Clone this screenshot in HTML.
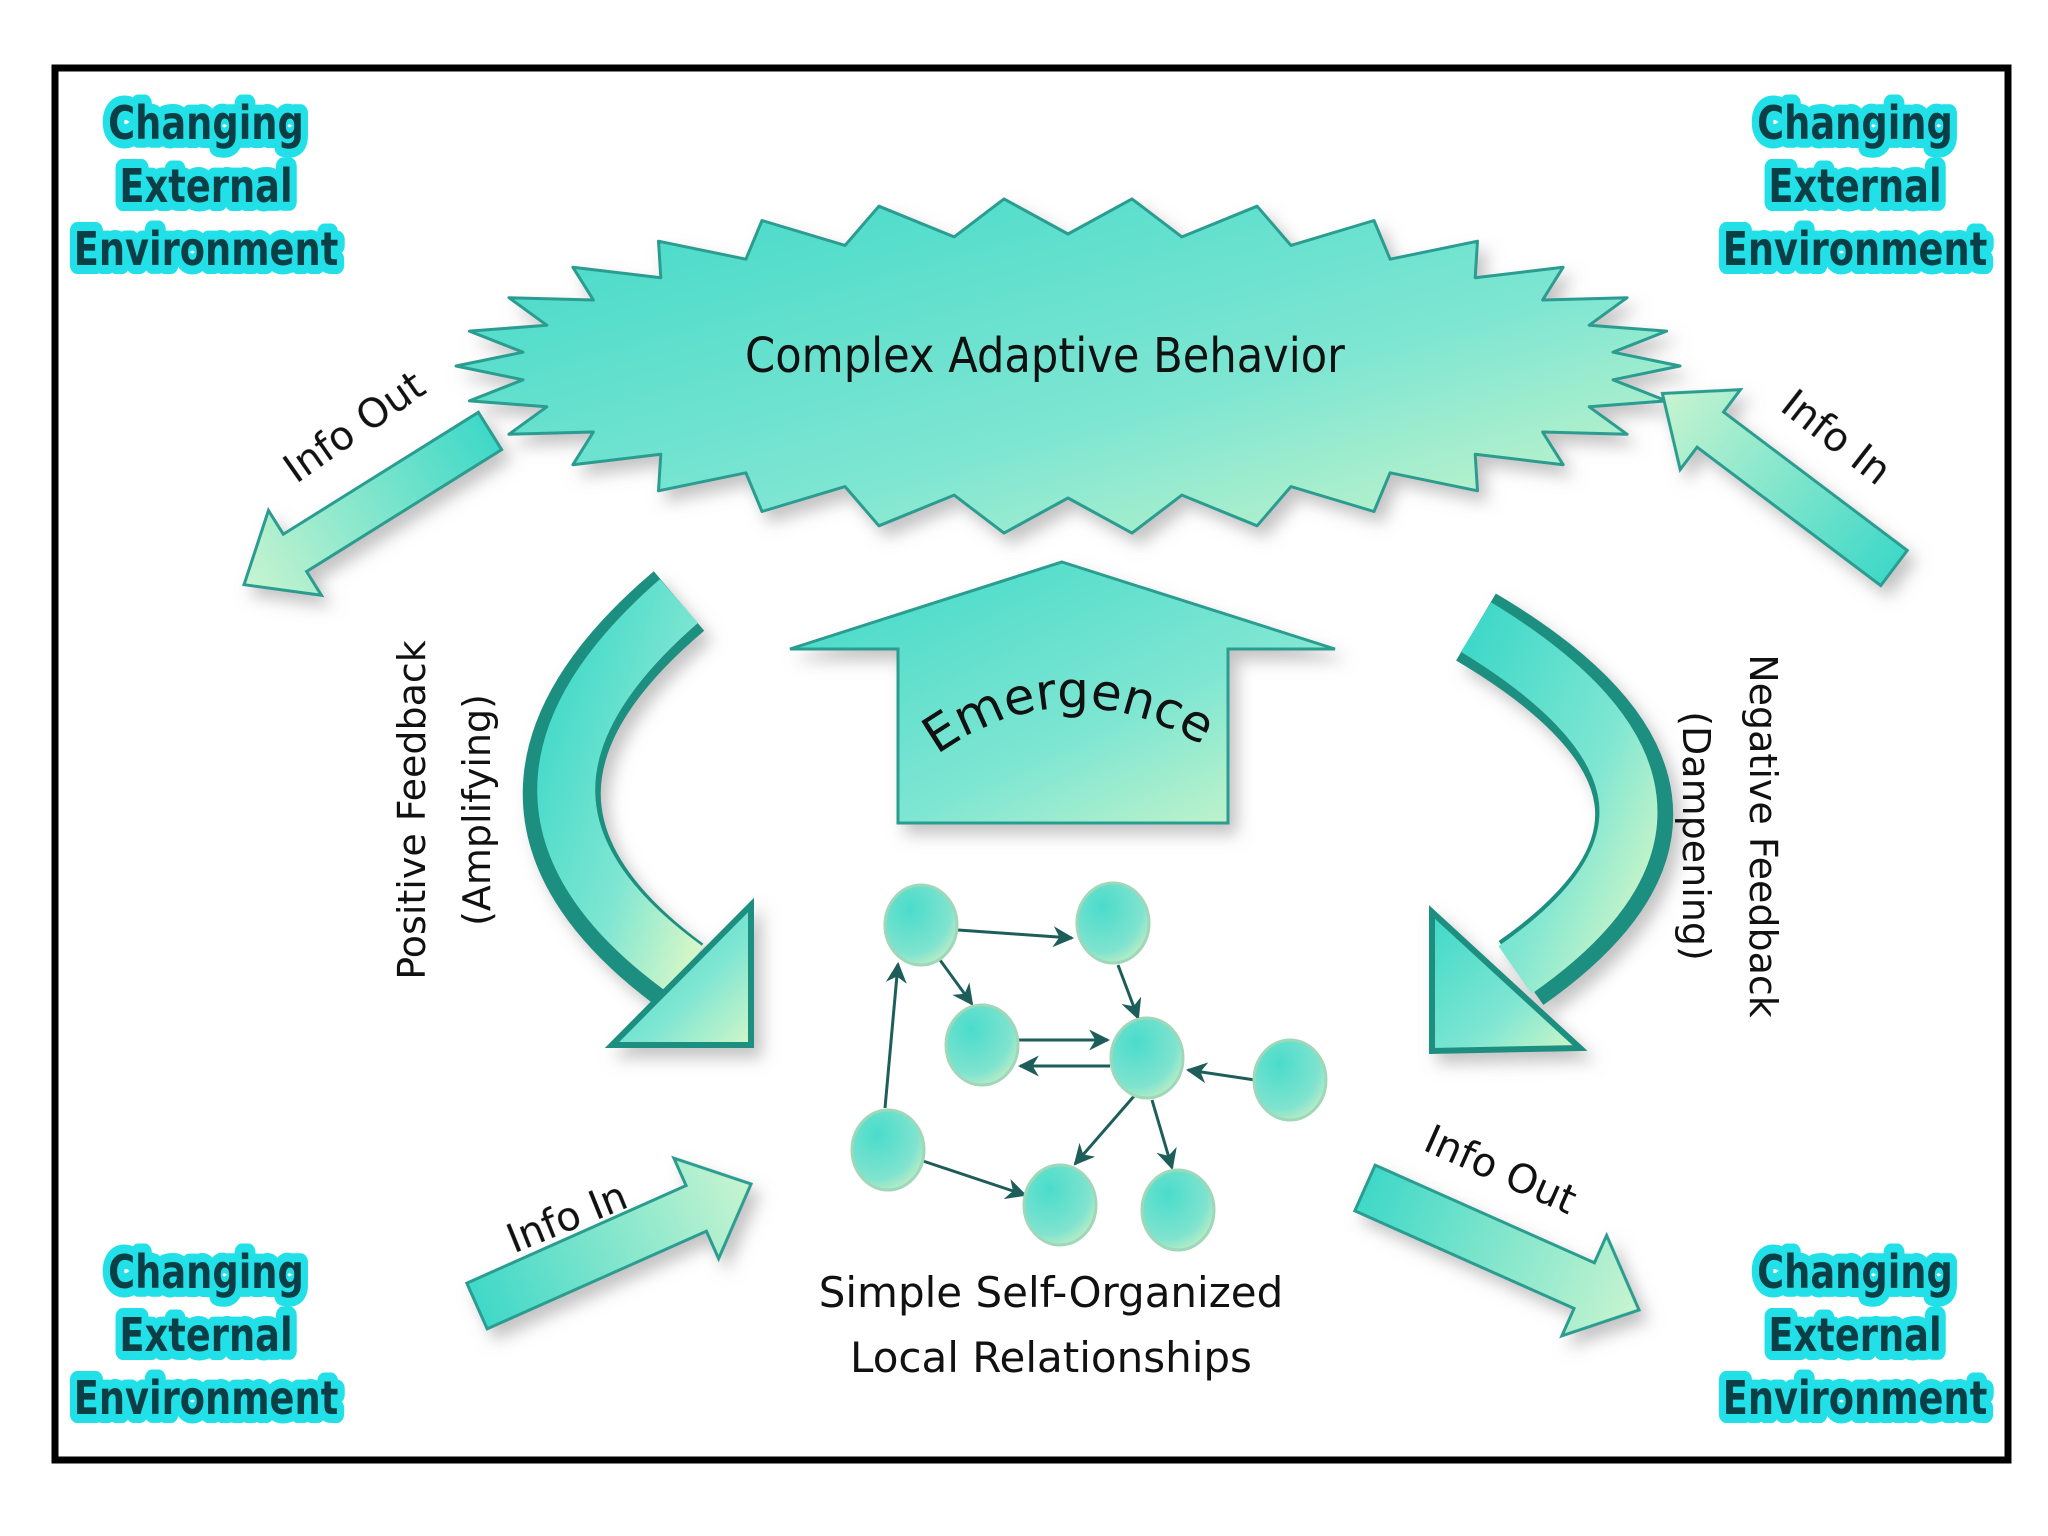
<!DOCTYPE html>
<html><head><meta charset="utf-8"><style>
html,body{margin:0;padding:0;background:#fff}
svg{display:block}
text{font-family:"DejaVu Sans","Liberation Sans",sans-serif}
</style></head><body>
<svg id="s" width="2048" height="1536" viewBox="0 0 2048 1536" xmlns="http://www.w3.org/2000/svg">
<defs>
<linearGradient id="g" x1="0" y1="0" x2="1" y2="1">
<stop offset="0" stop-color="#3fd8c8"/><stop offset="0.6" stop-color="#7ee6d2"/><stop offset="1" stop-color="#d2f6c8"/>
</linearGradient>
<linearGradient id="g2" x1="0" y1="0" x2="1" y2="0">
<stop offset="0" stop-color="#3fd8c8"/><stop offset="1" stop-color="#c8f4d0"/>
</linearGradient>
<radialGradient id="n" cx="0.35" cy="0.3" r="0.8">
<stop offset="0" stop-color="#4adccb"/><stop offset="0.7" stop-color="#7fe3cf"/><stop offset="1" stop-color="#c9efc4"/>
</radialGradient>
<marker id="ah" viewBox="0 0 10 10" refX="9" refY="5" markerWidth="7" markerHeight="7" orient="auto"><path d="M0 0 L10 5 L0 10 L3 5Z" fill="#1d5e5a"/></marker>
<filter id="sh" x="-10%" y="-10%" width="130%" height="130%"><feDropShadow dx="8" dy="10" stdDeviation="8" flood-color="#888" flood-opacity="0.5"/></filter>
</defs>
<rect x="55" y="68" width="1953" height="1392" fill="#fff" stroke="#000" stroke-width="7"/>

<g id="star" filter="url(#sh)"></g>
<text x="1045" y="372" font-size="48" text-anchor="middle" fill="#111" transform="translate(1045 0) scale(0.9 1) translate(-1045 0)">Complex Adaptive Behavior</text>

<polygon points="1062,562 1335,649 1228,649 1228,823 898,823 898,649 790,649" fill="url(#g)" stroke="#2a9c90" stroke-width="3" filter="url(#sh)"/>
<path id="arc" d="M930 760 Q1064 660 1210 750" fill="none"/>
<text font-size="50" fill="#111"><textPath href="#arc" startOffset="50%" text-anchor="middle">Emergence</textPath></text>

<g filter="url(#sh)">
<path d="M679 601 Q444 800 680 975" fill="none" stroke="#1f8f80" stroke-width="78"/>
<path d="M679 601 Q450 800 686 970" fill="none" stroke="url(#g)" stroke-width="58"/>
<polygon points="612,1045 751,1045 751,905" fill="url(#g)" stroke="#1f8f80" stroke-width="6"/>
<path d="M1476 627 Q1768 800 1521 973" fill="none" stroke="#1f8f80" stroke-width="78"/>
<path d="M1476 627 Q1760 800 1515 970" fill="none" stroke="url(#g)" stroke-width="58"/>
<polygon points="1432,912 1432,1051 1580,1048" fill="url(#g)" stroke="#1f8f80" stroke-width="6"/>
</g>

<g filter="url(#sh)" fill="url(#g2)" stroke="#2a9c90" stroke-width="3">
<g transform="translate(490 431) rotate(148)"><polygon points="0,-22 230,-22 230,-50 290,0 230,50 230,22 0,22"/></g>
<g transform="translate(1894 568) rotate(-143)"><polygon points="0,-22 230,-22 230,-50 290,0 230,50 230,22 0,22"/></g>
<g transform="translate(477 1306) rotate(-24)"><polygon points="0,-25 240,-25 240,-55 300,0 240,55 240,25 0,25"/></g>
<g transform="translate(1365 1188) rotate(24)"><polygon points="0,-25 240,-25 240,-55 300,0 240,55 240,25 0,25"/></g>
</g>
<g font-size="40" fill="#111" text-anchor="middle">
<text transform="translate(362 438) rotate(-35)">Info Out</text>
<text transform="translate(1828 448) rotate(38)">Info In</text>
<text transform="translate(572 1230) rotate(-22)">Info In</text>
<text transform="translate(1495 1182) rotate(24)">Info Out</text>
</g>

<g font-size="38" fill="#111" text-anchor="middle">
<text transform="translate(425 810) rotate(-90)">Positive Feedback</text>
<text transform="translate(490 810) rotate(-90)">(Amplifying)</text>
<text transform="translate(1750 836) rotate(90)">Negative Feedback</text>
<text transform="translate(1683 836) rotate(90)">(Dampening)</text>
</g>

<g stroke="#1d5e5a" stroke-width="3" marker-end="url(#ah)">
<line x1="958" y1="930" x2="1072" y2="938"/>
<line x1="940" y1="960" x2="972" y2="1004"/>
<line x1="1118" y1="965" x2="1138" y2="1018"/>
<line x1="1018" y1="1040" x2="1108" y2="1040"/>
<line x1="1110" y1="1066" x2="1020" y2="1066"/>
<line x1="1255" y1="1080" x2="1188" y2="1070"/>
<line x1="885" y1="1108" x2="898" y2="964"/>
<line x1="920" y1="1160" x2="1025" y2="1195"/>
<line x1="1135" y1="1095" x2="1075" y2="1164"/>
<line x1="1152" y1="1100" x2="1172" y2="1168"/>
</g>
<g fill="url(#n)" stroke="#9fd8b8" stroke-width="3">
<ellipse cx="921" cy="925" rx="36" ry="40"/>
<ellipse cx="1113" cy="923" rx="36" ry="40"/>
<ellipse cx="982" cy="1045" rx="36" ry="40"/>
<ellipse cx="1147" cy="1058" rx="36" ry="40"/>
<ellipse cx="1290" cy="1080" rx="36" ry="40"/>
<ellipse cx="888" cy="1150" rx="36" ry="40"/>
<ellipse cx="1060" cy="1205" rx="36" ry="40"/>
<ellipse cx="1178" cy="1210" rx="36" ry="40"/>
</g>
<g font-size="42" fill="#111" text-anchor="middle">
<text x="1051" y="1307">Simple Self-Organized</text>
<text x="1051" y="1372">Local Relationships</text>
</g>

<g id="corners" font-size="46" font-weight="bold" text-anchor="middle" fill="#0c3e46"></g>
</svg>
<script>
(function(){
var NS="http://www.w3.org/2000/svg";
var cx=1068,cy=366,N=30,pts=[];
for(var i=0;i<N*2;i++){
 var a=Math.PI*i/N;
 var out=i%2==0;
 var rx=out?612:548, ry=out?168:132;
 pts.push((cx+rx*Math.cos(a)).toFixed(1)+","+(cy+ry*Math.sin(a)).toFixed(1));
}
var p=document.createElementNS(NS,"polygon");
p.setAttribute("points",pts.join(" "));
p.setAttribute("fill","url(#g)");p.setAttribute("stroke","#2a9c90");p.setAttribute("stroke-width","3");
p.setAttribute("stroke-linejoin","round");
document.getElementById("star").appendChild(p);
var c=document.getElementById("corners");
var pos=[[206,124],[1855,124],[206,1273],[1855,1273]];
var words=["Changing","External","Environment"];
pos.forEach(function(q){
 words.forEach(function(w,k){
  var y=q[1]+k*63;
  var t=document.createElementNS(NS,"text");
  t.setAttribute("x",q[0]);t.setAttribute("y",y+15);
  t.setAttribute("stroke","#22e0e8");t.setAttribute("stroke-width","18");t.setAttribute("stroke-linejoin","round");
  t.setAttribute("transform","translate("+q[0]+" 0) scale(0.8 1) translate("+(-q[0])+" 0)");
  t.textContent=w;c.appendChild(t);
  var t2=t.cloneNode(true);t2.removeAttribute("stroke");t2.removeAttribute("stroke-width");
  c.appendChild(t2);
 });
});
})();
</script>
</body></html>
